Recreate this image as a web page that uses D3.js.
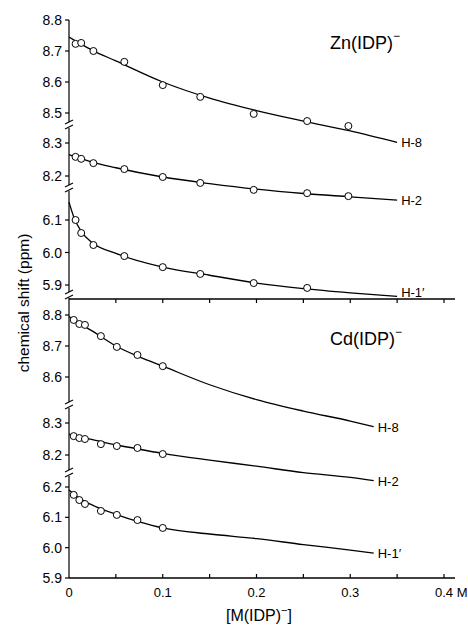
<!DOCTYPE html>
<html>
<head>
<meta charset="utf-8">
<script src="https://cdn.jsdelivr.net/npm/d3@7"></script>
<style>
  body { margin: 0; background: #fff; }
  svg { display: block; font-family: "Liberation Sans", Arial, sans-serif; }
</style>
</head>
<body>
<svg width="468" height="634"></svg>
<script>
// measured concentrations [M(IDP)-] in M
const znConc = [0.007, 0.013, 0.026, 0.059, 0.1, 0.14, 0.197, 0.254, 0.298];
const cdConc = [0.005, 0.011, 0.017, 0.034, 0.051, 0.073, 0.1];

// observed shifts (ppm)
const znH8 = [8.723, 8.726, 8.700, 8.665, 8.590, 8.552, 8.497, 8.474, 8.458];
const znH2 = [8.258, 8.252, 8.239, 8.221, 8.197, 8.179, 8.158, 8.148, 8.139];
const znH1 = [6.100, 6.060, 6.023, 5.989, 5.955, 5.934, 5.906, 5.891, null];
const cdH8 = [8.784, 8.771, 8.768, 8.732, 8.697, 8.671, 8.635];
const cdH2 = [8.259, 8.253, 8.250, 8.234, 8.228, 8.222, 8.203];
const cdH1 = [6.174, 6.157, 6.144, 6.121, 6.108, 6.091, 6.065];

// fitted curves
const znFitX = [0, 0.005, 0.013, 0.025, 0.05, 0.1, 0.15, 0.2, 0.25, 0.3, 0.35];
const znH8Fit = [8.745, 8.736, 8.722, 8.702, 8.668, 8.600, 8.548, 8.508, 8.474, 8.442, 8.405];
const znH2Fit = [8.265, 8.260, 8.253, 8.242, 8.225, 8.197, 8.177, 8.160, 8.147, 8.137, 8.127];
const znH1Fit = [6.155, 6.110, 6.065, 6.030, 5.997, 5.955, 5.930, 5.906, 5.889, 5.876, 5.865];
const cdFitX = [0, 0.01, 0.025, 0.05, 0.075, 0.1, 0.15, 0.2, 0.25, 0.3, 0.325];
const cdH8Fit = [8.795, 8.775, 8.748, 8.700, 8.665, 8.635, 8.575, 8.527, 8.490, 8.458, 8.440];
const cdH2Fit = [8.265, 8.257, 8.248, 8.232, 8.218, 8.205, 8.184, 8.165, 8.145, 8.130, 8.120];
const cdH1Fit = [6.190, 6.165, 6.140, 6.110, 6.085, 6.065, 6.045, 6.030, 6.010, 5.992, 5.982];

const xTicks = [0, 0.1, 0.2, 0.3, 0.4];
const xMinor = [0.05, 0.1, 0.15, 0.2, 0.25, 0.3, 0.35, 0.4];

const svg = d3.select("svg");
const x = d3.scaleLinear().domain([0, 0.4]).range([69, 444]);
const ax = x(0);
const fmt = d3.format(".1f");

// each broken y segment: value pair -> pixel pair
const segments = [
  {conc: znConc, obs: znH8, fx: znFitX, fit: znH8Fit, d: [8.8, 8.5], r: [20, 113], ticks: [8.5, 8.6, 8.7, 8.8], label: "H-8", ly: 5, top: 20, bottom: 122},
  {conc: znConc, obs: znH2, fx: znFitX, fit: znH2Fit, d: [8.3, 8.2], r: [143, 176], ticks: [8.2, 8.3], label: "H-2", ly: 5, top: 128, bottom: 185},
  {conc: znConc, obs: znH1, fx: znFitX, fit: znH1Fit, d: [6.1, 5.9], r: [220, 285], ticks: [5.9, 6.0, 6.1], label: "H-1\u2032", ly: 1, top: 191, bottom: 292},
  {conc: cdConc, obs: cdH8, fx: cdFitX, fit: cdH8Fit, d: [8.8, 8.6], r: [315, 377], ticks: [8.6, 8.7, 8.8], label: "H-8", ly: 5, top: 298, bottom: 402},
  {conc: cdConc, obs: cdH2, fx: cdFitX, fit: cdH2Fit, d: [8.3, 8.2], r: [423, 455], ticks: [8.2, 8.3], label: "H-2", ly: 5, top: 408, bottom: 470},
  {conc: cdConc, obs: cdH1, fx: cdFitX, fit: cdH1Fit, d: [6.2, 5.9], r: [487, 578], ticks: [5.9, 6.0, 6.1, 6.2], label: "H-1\u2032", ly: 5, top: 476, bottom: 578}
];

const g = svg.append("g");

segments.forEach(s => {
  const y = d3.scaleLinear().domain(s.d).range(s.r);

  // axis piece
  g.append("line")
    .attr("x1", ax).attr("x2", ax)
    .attr("y1", s.top).attr("y2", s.bottom)
    .attr("stroke", "#000").attr("stroke-width", 1.2);

  s.ticks.forEach(t => {
    g.append("line")
      .attr("x1", ax - 4).attr("x2", ax)
      .attr("y1", y(t)).attr("y2", y(t))
      .attr("stroke", "#000").attr("stroke-width", 1.2);
    g.append("text")
      .attr("x", ax - 7).attr("y", y(t) + 5)
      .attr("text-anchor", "end")
      .attr("font-size", 14)
      .text(fmt(t));
  });

  // fitted curve
  const fitPts = s.fx.map((v, i) => [v, s.fit[i]]);
  const line = d3.line().x(d => x(d[0])).y(d => y(d[1])).curve(d3.curveMonotoneX);
  g.append("path")
    .attr("d", line(fitPts))
    .attr("fill", "none")
    .attr("stroke", "#000")
    .attr("stroke-width", 1.3);

  const last = fitPts[fitPts.length - 1];
  g.append("text")
    .attr("x", x(last[0]) + 4).attr("y", y(last[1]) + s.ly)
    .attr("font-size", 13)
    .text(s.label);

  // observed points
  const pts = s.conc.map((c, i) => [c, s.obs[i]]).filter(d => d[1] != null);
  g.selectAll(null)
    .data(pts)
    .enter()
    .append("circle")
    .attr("cx", d => x(d[0]))
    .attr("cy", d => y(d[1]))
    .attr("r", 3.5)
    .attr("fill", "#fff")
    .attr("stroke", "#000")
    .attr("stroke-width", 1);
});

// axis break marks
[125, 188, 295, 405, 473].forEach(b => {
  [b - 3, b + 2].forEach(yy => {
    g.append("line")
      .attr("x1", ax - 4).attr("y1", yy + 2)
      .attr("x2", ax + 4).attr("y2", yy - 2)
      .attr("stroke", "#000").attr("stroke-width", 1.2);
  });
});

// middle and bottom horizontal axes
const xEnd = 455;
[[299, 4], [578, -4]].forEach(([yy, dir]) => {
  g.append("line")
    .attr("x1", ax).attr("x2", xEnd)
    .attr("y1", yy).attr("y2", yy)
    .attr("stroke", "#000").attr("stroke-width", 1.3);
  xMinor.forEach(t => {
    g.append("line")
      .attr("x1", x(t)).attr("x2", x(t))
      .attr("y1", yy).attr("y2", yy + dir)
      .attr("stroke", "#000").attr("stroke-width", 1.2);
  });
});

xTicks.forEach(t => {
  g.append("text")
    .attr("x", t === 0.4 ? x(t) - 9 : x(t))
    .attr("y", 597)
    .attr("text-anchor", t === 0.4 ? "start" : "middle")
    .attr("font-size", 13)
    .text(t === 0 ? "0" : (t === 0.4 ? "0.4 M" : fmt(t)));
});

// x title
const xt = svg.append("text")
  .attr("x", 259).attr("y", 621)
  .attr("text-anchor", "middle")
  .attr("font-size", 16);
xt.append("tspan").text("[M(IDP)");
xt.append("tspan").attr("dy", -7).attr("font-size", 11).text("\u2212");
xt.append("tspan").attr("dy", 7).text("]");

// y title
svg.append("text")
  .attr("transform", "translate(29,303) rotate(-90)")
  .attr("text-anchor", "middle")
  .attr("font-size", 15.5)
  .text("chemical shift (ppm)");

// panel titles
[["Zn(IDP)", 49], ["Cd(IDP)", 345]].forEach(([name, yy]) => {
  const t = svg.append("text")
    .attr("x", 330).attr("y", yy)
    .attr("font-size", 18);
  t.append("tspan").text(name);
  t.append("tspan").attr("dy", -9).attr("font-size", 12).text("\u2212");
});
</script>
</body>
</html>
